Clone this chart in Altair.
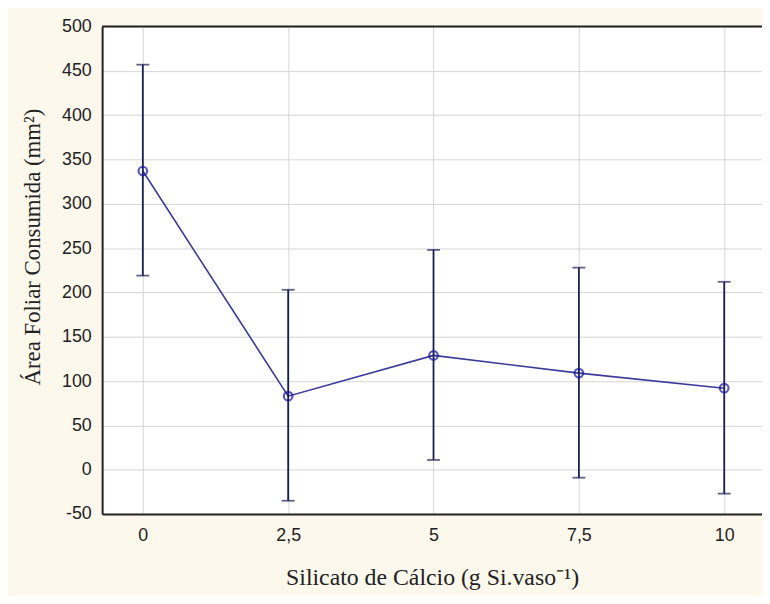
import altair as alt
import pandas as pd

doses = [0, 2.5, 5, 7.5, 10]
means = [337, 83, 129, 109, 92]
lower = [219, -35, 11, -9, -27]
upper = [457, 203, 248, 228, 212]

x_ticks = [0, 2.5, 5, 7.5, 10]
y_ticks = list(range(-50, 501, 50))

df = pd.DataFrame({"dose": doses, "mean": means, "lo": lower, "hi": upper})

W, H = 666, 492
xs = alt.Scale(domain=[-0.7, 10.65], nice=False, zero=False)
ys = alt.Scale(domain=[-50, 500], nice=False, zero=False)

x_enc = alt.X("dose:Q", scale=xs,
              axis=alt.Axis(values=x_ticks,
                            labelExpr="replace(toString(datum.value), '.', ',')",
                            title="Silicato de Cálcio (g Si.vaso⁻¹)",
                            grid=True, gridColor="#d4d4d4", ticks=False,
                            domainColor="#222222", domainWidth=2,
                            labelFont="Liberation Sans", labelFontSize=18,
                            labelColor="#222222", labelPadding=13,
                            titleFont="Liberation Serif", titleFontSize=24,
                            titleFontWeight="normal", titleColor="#222222",
                            titleY=64, titleBaseline="middle"))
y_enc = alt.Y("mean:Q", scale=ys,
              axis=alt.Axis(values=y_ticks,
                            labelExpr="toString(datum.value)",
                            title="Área Foliar Consumida (mm²)",
                            grid=True, gridColor="#d4d4d4", ticks=False,
                            domainColor="#222222", domainWidth=2,
                            labelFont="Liberation Sans", labelFontSize=18,
                            labelColor="#222222", labelPadding=11,
                            titleFont="Liberation Serif", titleFontSize=23,
                            titleFontWeight="normal", titleColor="#222222",
                            titleX=-70, titleY=222, titleAngle=270,
                            titleAlign="center", titleBaseline="middle"))

base = alt.Chart(df)

err = base.mark_rule(color="#1c1c55", strokeWidth=1.8).encode(
    x=x_enc, y=alt.Y("lo:Q", scale=ys), y2="hi:Q")
cap_lo = base.mark_tick(color="#1c1c55", thickness=1.8, size=13, orient="horizontal").encode(
    x=alt.X("dose:Q", scale=xs), y=alt.Y("lo:Q", scale=ys))
cap_hi = base.mark_tick(color="#1c1c55", thickness=1.8, size=13, orient="horizontal").encode(
    x=alt.X("dose:Q", scale=xs), y=alt.Y("hi:Q", scale=ys))
line = base.mark_line(color="#3a3a9a", strokeWidth=1.6).encode(
    x=alt.X("dose:Q", scale=xs), y=y_enc)
pts = base.mark_point(shape="circle", filled=False, color="#1414a0", size=75, strokeWidth=2.2).encode(
    x=alt.X("dose:Q", scale=xs), y=alt.Y("mean:Q", scale=ys))
top = alt.Chart(pd.DataFrame({"v": [500]})).mark_rule(color="#222222", strokeWidth=2).encode(
    y=alt.Y("v:Q", scale=ys), x=alt.value(0), x2=alt.value(W))

chart = alt.layer(line, err, cap_lo, cap_hi, pts, top).properties(
    width=W, height=H,
    background="#fcf8ec",
    padding={"left": 95, "top": 16, "right": 0, "bottom": 80},
    autosize=alt.AutoSizeParams(type="none"),
).configure_view(stroke=None, fill="white")

chart.save("out.html", embed_options={"renderer": "svg", "actions": False})
